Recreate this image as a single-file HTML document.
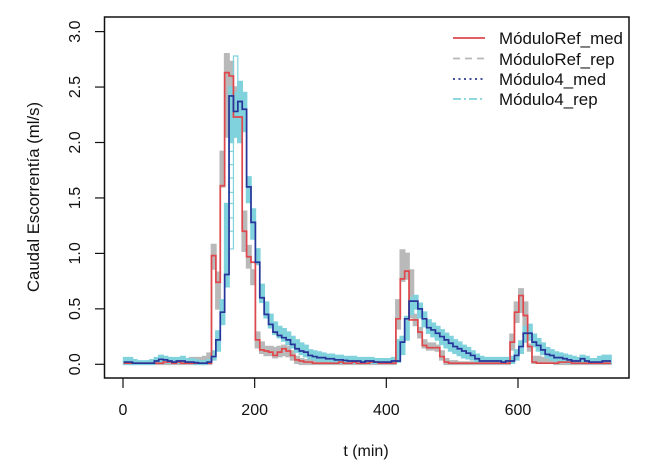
<!DOCTYPE html>
<html lang="es">
<head>
<meta charset="utf-8">
<title>Caudal Escorrentía</title>
<style>
html,body{margin:0;padding:0;background:#fff;width:660px;height:473px;overflow:hidden}
svg{display:block}
text{font-family:"Liberation Sans",sans-serif;fill:#111;font-size:16px}
</style>
</head>
<body>
<svg id="chart" width="660" height="473" viewBox="0 0 660 473" xmlns="http://www.w3.org/2000/svg">
  <rect x="0" y="0" width="660" height="473" fill="#fff"/>
  <g id="marks"></g>
  <rect x="104.5" y="17" width="524.5" height="361" fill="none" stroke="#111" stroke-width="1.5"/>
  <g id="axes"></g>
  <text x="366" y="456" text-anchor="middle">t (min)</text>
  <text transform="translate(39,197) rotate(-90)" text-anchor="middle" style="font-size:16.8px">Caudal Escorrentía (ml/s)</text>
  <g>
    <g>
      <line x1="453" x2="485" y1="38" y2="38" stroke="#dd4a50" stroke-width="1.8"/>
      <text x="499" y="44" style="font-size:16.9px">MóduloRef_med</text>
    </g>
    <g>
      <line x1="453" x2="485" y1="58.5" y2="58.5" stroke="#b8b8b8" stroke-width="1.8" stroke-dasharray="7 5"/>
      <text x="499" y="65" style="font-size:16.9px">MóduloRef_rep</text>
    </g>
    <g>
      <line x1="453" x2="485" y1="79" y2="79" stroke="#2f3a8f" stroke-width="1.8" stroke-dasharray="2 3.5"/>
      <text x="499" y="85" style="font-size:16.9px">Módulo4_med</text>
    </g>
    <g>
      <line x1="453" x2="485" y1="99" y2="99" stroke="#80d2dc" stroke-width="1.8" stroke-dasharray="8 3 2 3"/>
      <text x="499" y="105" style="font-size:16.9px">Módulo4_rep</text>
    </g>
  </g>
</svg>
<script>
const xTicks = [0, 200, 400, 600];
const yTicks = [0, 0.5, 1, 1.5, 2, 2.5, 3];
const yTickLabels = ['0.0', '0.5', '1.0', '1.5', '2.0', '2.5', '3.0'];

const sampleStart = 1;
const sampleStep = 6.67;

const refMed = [
  .01,.01,.01,.01,.01,.01,.01,.01,.01,.02,
  .02,.01,.02,.01,.01,.01,.01,.01,.01,.01,
  .98,.74,1.61,2.63,2.60,2.23,2.23,1.20,.97,.92,
  .22,.13,.12,.11,.08,.11,.14,.12,.08,.04,
  .03,.02,.02,.01,.01,.01,.01,.01,.01,.02,
  .01,.01,.02,.01,.01,.01,.02,.02,.01,.01,
  .01,.01,.41,.77,.84,.40,.40,.29,.17,.15,
  .15,.15,.07,.02,.01,.01,.01,.01,.01,.01,
  .01,.01,.01,.01,.01,.01,.01,.01,.20,.47,
  .62,.44,.16,.02,.01,.01,.01,.01,.01,.02,
  .02,.02,.01,.01,.01,.01,.01,.01,.01,.01,.01
];
const mod4Med = [
  .02,.02,.01,.01,.01,.01,.01,.03,.045,.04,
  .03,.02,.03,.03,.02,.02,.015,.01,.01,.02,
  .07,.22,.47,.81,2.42,2.28,2.37,2.30,1.60,1.28,
  .92,.60,.45,.36,.29,.26,.24,.22,.18,.14,
  .12,.11,.08,.07,.06,.06,.05,.05,.04,.04,
  .035,.03,.03,.03,.02,.03,.03,.02,.02,.02,
  .02,.03,.03,.20,.41,.57,.57,.50,.41,.33,
  .31,.28,.25,.22,.19,.16,.14,.12,.10,.08,
  .05,.03,.03,.03,.03,.03,.02,.03,.03,.08,
  .16,.28,.28,.20,.17,.13,.09,.08,.06,.06,
  .05,.04,.03,.03,.05,.03,.02,.02,.02,.03,.03
];
const refRepHigh = [
  .03,.03,.02,.02,.02,.02,.02,.03,.04,.04,
  .04,.03,.04,.04,.05,.06,.06,.06,.07,.10,
  1.08,.83,1.92,2.80,2.73,2.50,2.50,1.38,1.07,.85,
  .29,.20,.16,.16,.15,.16,.17,.16,.12,.07,
  .05,.04,.04,.03,.03,.03,.03,.04,.04,.04,
  .03,.03,.04,.03,.03,.04,.04,.04,.03,.03,
  .03,.04,.58,1.03,1.00,.85,.45,.33,.22,.19,
  .19,.17,.12,.05,.03,.03,.02,.02,.02,.02,
  .02,.02,.02,.02,.02,.02,.02,.03,.27,.56,
  .68,.56,.18,.07,.07,.06,.06,.05,.03,.03,
  .03,.03,.03,.02,.02,.02,.02,.02,.02,.02,.02
];
const refRepLow = [
  0,0,0,0,0,0,0,0,0,0,
  0,0,0,0,0,0,0,0,0,0,
  .86,.50,1.60,2.05,2.05,2.05,2.03,1.02,.87,.72,
  .15,.10,.08,.08,.06,.07,.08,.07,.04,.01,
  0,0,0,0,0,0,0,0,0,0,
  0,0,0,0,0,0,0,0,0,0,
  0,0,.32,.75,.77,.42,.35,.24,.15,.13,
  .13,.12,.04,0,0,0,0,0,0,0,
  0,0,0,0,0,0,0,0,.13,.38,
  .47,.25,.12,.01,.01,.01,.01,.01,0,0,
  0,0,0,0,0,0,0,0,0,0,0
];
const mod4RepHigh = [
  .06,.06,.04,.03,.03,.03,.04,.06,.08,.07,
  .06,.06,.06,.07,.05,.05,.04,.03,.03,.04,
  .12,.30,.58,1.45,2.50,2.45,2.55,2.45,1.69,1.40,
  1.04,.72,.56,.45,.38,.34,.32,.29,.25,.22,
  .19,.17,.13,.12,.11,.10,.09,.09,.08,.08,
  .07,.07,.07,.06,.06,.06,.06,.05,.05,.05,
  .05,.06,.22,.25,.43,.60,.62,.55,.47,.40,
  .37,.34,.31,.28,.25,.22,.20,.17,.15,.12,
  .09,.07,.06,.06,.06,.06,.06,.06,.07,.13,
  .21,.34,.36,.27,.23,.19,.15,.13,.11,.10,
  .09,.08,.07,.06,.08,.07,.05,.05,.07,.08,.08
];
const mod4RepLow = [
  0,0,0,0,0,0,0,.01,.02,.02,
  .01,.01,.01,.01,.01,.01,0,0,0,.01,
  .04,.12,.36,.70,2.00,2.05,2.00,2.10,1.46,1.13,
  .90,.56,.42,.33,.27,.24,.21,.18,.15,.11,
  .09,.07,.05,.04,.03,.03,.03,.02,.02,.01,
  .01,.01,.01,.01,.01,.01,.01,.01,.01,.01,
  .01,.01,.02,.09,.22,.45,.50,.42,.34,.28,
  .25,.22,.18,.15,.12,.10,.08,.06,.05,.04,
  .02,.01,.01,.01,.01,.01,.01,.01,.01,.04,
  .10,.20,.22,.16,.12,.09,.06,.04,.03,.02,
  .02,.01,.01,.01,.02,.01,.01,.01,.01,.01,.01
];
const mod4TraceStartIndex = 22;
const mod4TraceA = [.50,.90,1.04,2.78,2.30];
const mod4TraceB = [.50,.90,2.50,2.20,2.30];
const mod4RungIndex = 24;
const mod4RungValues = [1.2,1.32,1.45,1.55,1.68,1.8,1.92];

const NS = 'http://www.w3.org/2000/svg';
function xScale(t){ return 123 + t * 0.6583; }
function yScale(v){ return 364.3 - v * 110.9; }
function tAt(i){ return sampleStart + i * sampleStep; }

function stepPath(values, startIndex){
  let d = '';
  values.forEach(function(v, k){
    const i = startIndex + k;
    d += (k === 0 ? 'M' : 'L') + xScale(tAt(i)).toFixed(2) + ' ' + yScale(v).toFixed(2);
    d += 'L' + xScale(tAt(i + 1)).toFixed(2) + ' ' + yScale(v).toFixed(2);
  });
  return d;
}
function bandPath(high, low){
  let d = stepPath(high, 0);
  for (let i = low.length - 1; i >= 0; i--) {
    d += 'L' + xScale(tAt(i + 1)).toFixed(2) + ' ' + yScale(low[i]).toFixed(2);
    d += 'L' + xScale(tAt(i)).toFixed(2) + ' ' + yScale(low[i]).toFixed(2);
  }
  return d + 'Z';
}

const marks = document.getElementById('marks');
const axes = document.getElementById('axes');

const refBand = document.createElementNS(NS, 'path');


refBand.setAttribute('d', bandPath(refRepHigh, refRepLow));
refBand.setAttribute('fill', '#b9b9b9');
refBand.setAttribute('stroke', '#b9b9b9');
refBand.setAttribute('stroke-width', '1.6');
marks.appendChild(refBand);

const modBand = document.createElementNS(NS, 'path');


modBand.setAttribute('d', bandPath(mod4RepHigh, mod4RepLow));
modBand.setAttribute('fill', '#80d2dc');
modBand.setAttribute('stroke', '#80d2dc');
modBand.setAttribute('stroke-width', '1.6');
marks.appendChild(modBand);

const traceA = document.createElementNS(NS, 'path');


traceA.setAttribute('d', stepPath(mod4TraceA, mod4TraceStartIndex));
traceA.setAttribute('fill', 'none');
traceA.setAttribute('stroke', '#80d2dc');
traceA.setAttribute('stroke-width', '1.2');
marks.appendChild(traceA);

const traceB = document.createElementNS(NS, 'path');


traceB.setAttribute('d', stepPath(mod4TraceB, mod4TraceStartIndex));
traceB.setAttribute('fill', 'none');
traceB.setAttribute('stroke', '#80d2dc');
traceB.setAttribute('stroke-width', '1.2');
marks.appendChild(traceB);

mod4RungValues.forEach(function(v){
  const rung = document.createElementNS(NS, 'line');
  
  
  rung.setAttribute('x1', xScale(tAt(mod4RungIndex)));
  rung.setAttribute('x2', xScale(tAt(mod4RungIndex + 1)));
  rung.setAttribute('y1', yScale(v));
  rung.setAttribute('y2', yScale(v));
  rung.setAttribute('stroke', '#80d2dc');
  rung.setAttribute('stroke-width', '1.2');
  marks.appendChild(rung);
});

const refLine = document.createElementNS(NS, 'path');


refLine.setAttribute('d', stepPath(refMed, 0));
refLine.setAttribute('fill', 'none');
refLine.setAttribute('stroke', '#e0474c');
refLine.setAttribute('stroke-width', '1.7');
marks.appendChild(refLine);

const modLine = document.createElementNS(NS, 'path');


modLine.setAttribute('d', stepPath(mod4Med, 0));
modLine.setAttribute('fill', 'none');
modLine.setAttribute('stroke', '#27359a');
modLine.setAttribute('stroke-width', '1.7');
marks.appendChild(modLine);

xTicks.forEach(function(t){
  const tick = document.createElementNS(NS, 'line');
  
  
  tick.setAttribute('x1', xScale(t));
  tick.setAttribute('x2', xScale(t));
  tick.setAttribute('y1', 378);
  tick.setAttribute('y2', 388);
  tick.setAttribute('stroke', '#111');
  tick.setAttribute('stroke-width', '1.2');
  axes.appendChild(tick);
  const label = document.createElementNS(NS, 'text');
  
  
  label.setAttribute('x', xScale(t));
  label.setAttribute('y', 415);
  label.setAttribute('text-anchor', 'middle');
  label.textContent = String(t);
  axes.appendChild(label);
});

yTicks.forEach(function(v, i){
  const tick = document.createElementNS(NS, 'line');
  
  
  tick.setAttribute('x1', 95);
  tick.setAttribute('x2', 104.5);
  tick.setAttribute('y1', yScale(v));
  tick.setAttribute('y2', yScale(v));
  tick.setAttribute('stroke', '#111');
  tick.setAttribute('stroke-width', '1.2');
  axes.appendChild(tick);
  const label = document.createElementNS(NS, 'text');
  
  
  label.setAttribute('transform', 'translate(80,' + yScale(v) + ') rotate(-90)');
  label.setAttribute('text-anchor', 'middle');
  label.textContent = yTickLabels[i];
  axes.appendChild(label);
});
</script>
</body>
</html>
